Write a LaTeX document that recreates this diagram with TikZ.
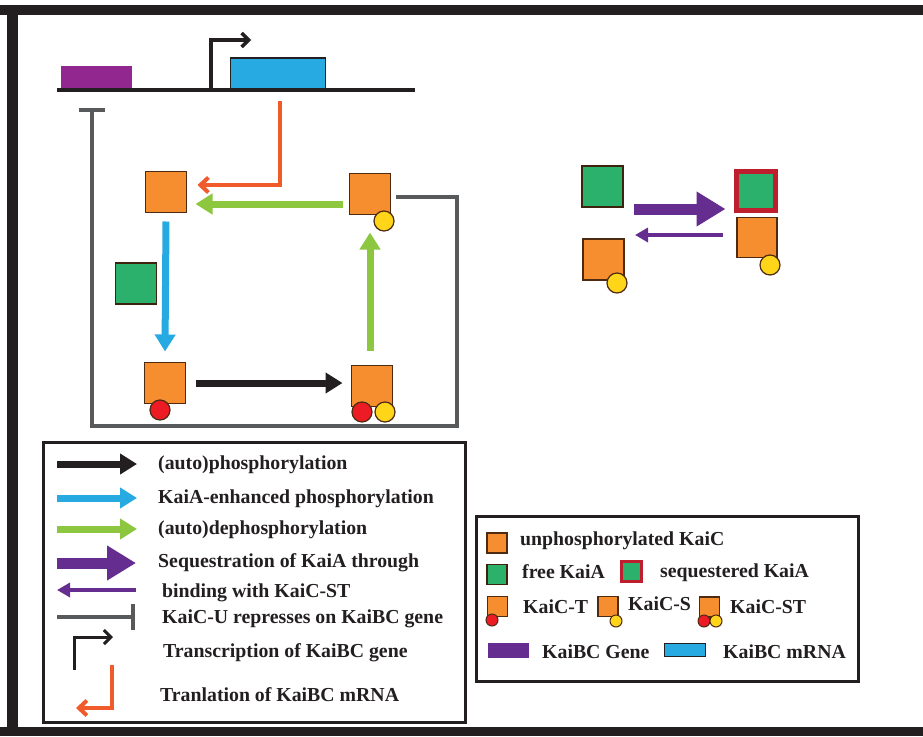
\documentclass[tikz,border=0pt]{standalone}
\usepackage{fontspec}
\setmainfont{Liberation Serif}
\usetikzlibrary{arrows.meta,calc}
\definecolor{kdark}{HTML}{231F20}
\definecolor{korange}{HTML}{F68D2E}
\definecolor{kbrown}{HTML}{4D2B12}
\definecolor{kgreen}{HTML}{2BB16C}
\definecolor{kyellow}{HTML}{FFD51A}
\definecolor{kred}{HTML}{ED1C24}
\definecolor{kblue}{HTML}{27AAE1}
\definecolor{klime}{HTML}{8DC63F}
\definecolor{korarrow}{HTML}{F15A29}
\definecolor{kpurple}{HTML}{662D91}
\definecolor{kgene}{HTML}{92278F}
\definecolor{kgrey}{HTML}{58595B}
\definecolor{kseq}{HTML}{BE1E2D}
\definecolor{ktext}{HTML}{231F20}
\begin{document}
\begin{tikzpicture}[x=1pt,y=-1pt,
  kaic/.style={draw=kbrown,fill=korange,line width=1.3pt,minimum size=41pt,inner sep=0pt,outer sep=0pt},
  kaia/.style={draw=kbrown!80!black,fill=kgreen,line width=1.3pt,minimum size=41pt,inner sep=0pt,outer sep=0pt},
  seqa/.style={draw=kseq,fill=kgreen,line width=5pt,minimum size=39pt,inner sep=0pt,outer sep=0pt},
  pT/.style={circle,draw=kbrown,fill=kred,line width=1.2pt,minimum size=20pt,inner sep=0pt},
  pS/.style={circle,draw=kbrown,fill=kyellow,line width=1.2pt,minimum size=20pt,inner sep=0pt},
  lkaic/.style={kaic,minimum size=20pt,line width=1.2pt},
  lkaia/.style={kaia,minimum size=20pt,line width=1.2pt},
  lpT/.style={pT,minimum size=12pt,line width=1pt},
  lpS/.style={pS,minimum size=12pt,line width=1pt},
  fat/.style={line width=7pt,-{Triangle[length=17pt,width=20pt]}},
  blackarr/.style={fat,draw=kdark},
  bluearr/.style={fat,draw=kblue},
  greenarr/.style={fat,draw=klime},
  bigpurple/.style={draw=kpurple,line width=11pt,-{Triangle[length=29pt,width=33pt]}},
  thinpurple/.style={draw=kpurple,line width=4.5pt,-{Triangle[length=13pt,width=14pt]}},
  transl/.style={draw=korarrow,line width=4pt,-{Straight Barb[length=8pt,width=15pt]}},
  promo/.style={draw=kdark,line width=3.5pt,-{Straight Barb[length=7pt,width=14pt]}},
  repress/.style={draw=kgrey,line width=4pt,-{Bar[width=26pt]}},
  lbl/.style={anchor=base west,inner sep=0pt,text=ktext,font=\bfseries\fontsize{19.8}{22}\selectfont},
  frame/.style={draw=kdark,line width=3pt,fill=none,inner sep=0pt}
]
\useasboundingbox (0,0) rectangle (923,736);
\fill[white] (0,0) rectangle (923,736);
% outer frame
\fill[kdark] (0,5) rectangle (923,15);
\fill[kdark] (7,5) rectangle (18,736);
\fill[kdark] (0,727) rectangle (923,736);

% ---------- gene line ----------
\coordinate (D1) at (57,90);
\coordinate (D2) at (415,90);
\node[fill=kgene,minimum width=71pt,minimum height=24pt,inner sep=0pt] (G) at (96.5,78) {};
\node[draw=kdark,fill=kblue,line width=1.5pt,minimum width=95pt,minimum height=32pt,inner sep=0pt] (M) at (278,74) {};
\draw[kdark,line width=4pt] (D1) -- (D2);
\coordinate (P) at (211,90);
\draw[promo] (P) -- ++(0,-50) -- ++(40,0);

% ---------- cycle ----------
\node[kaic] (U) at (166,192) {};
\node[kaic] (S) at (370,194) {};
\node[pS] (Sp) at (384,221) {};
\node[kaic] (T) at (165,383) {};
\node[pT] (Tp) at (160,410) {};
\node[kaic] (ST) at (372,386) {};
\node[pT] (STp1) at (362,412) {};
\node[pS] (STp2) at (385,412) {};
\node[kaia] (A) at (136,283.5) {};

\draw[transl] ([xshift=2pt,yshift=-10pt]M.south) |- ($(U.east)+(11,-7)$);
\draw[bluearr] ([yshift=-9pt]U.south) -- ([yshift=11pt]T.north);
\draw[blackarr] ([xshift=10pt]T.east) -- ([xshift=-9pt]T.east -| ST.west);
\draw[greenarr] ([xshift=-2pt,yshift=15pt]ST.north) -- ([xshift=-2pt,yshift=-18pt]ST.north |- S.south);
\coordinate (g1) at ($(S.west)+(-7,10)$);
\draw[greenarr] (g1) -- ([xshift=9pt]g1 -| U.east);

\coordinate (R) at (92,108);
\draw[repress] ($(S.east)+(5.5,3)$) -| (457,426) -| (R);

% ---------- sequestration ----------
\node[kaia] (A2) at (602.5,186.5) {};
\node[kaic] (S2) at (603.5,259.5) {};
\node[pS] (S2p) at (617,283) {};
\node[seqa] (A3) at (756,191) {};
\node[kaic,minimum size=40pt] (S3) at (757,237.5) {};
\node[pS] (S3p) at (770,265) {};
\coordinate (b1) at ($(A2.east)+(11,22.5)$);
\draw[bigpurple] (b1) -- ([xshift=-11pt]b1 -| A3.west);
\coordinate (b2) at ($(S3.west)+(-14,-2.5)$);
\draw[thinpurple] (b2) -- ([xshift=12pt]b2 -| A2.east);

% ---------- legend 1 ----------
\node[frame,minimum width=422pt,minimum height=280pt] (L1) at (254,582) {};
\draw[blackarr] (57,464) -- (137,464);
\node[lbl] (t1) at (158,469) {(auto)phosphorylation};
\draw[bluearr] (57,498) -- (137,498);
\node[lbl] (t2) at (158,503) {KaiA-enhanced phosphorylation};
\draw[greenarr] (57,529) -- (137,529);
\node[lbl] (t3) at (158,534) {(auto)dephosphorylation};
\draw[bigpurple] (57,563) -- (136,563);
\node[lbl] (t4) at (158,567) {Sequestration of KaiA through};
\draw[thinpurple] (136,590) -- (57,590);
\node[lbl] (t5) at (162,597) {binding with KaiC-ST};
\draw[repress] (57,617) -- (135,617);
\node[lbl] (t6) at (162,623) {KaiC-U represses on KaiBC gene};
\draw[promo,line width=3pt] (74,670) -- (74,637) -- (113,637);
\node[lbl] (t7) at (163,657) {Transcription of KaiBC gene};
\draw[transl] (112,665) -- (112,708) -- (76,708);
\node[lbl] (t8) at (160,701) {Tranlation of KaiBC mRNA};

% ---------- legend 2 ----------
\node[frame,minimum width=382pt,minimum height=165pt] (L2) at (667,598.5) {};
\node[lkaic] (k1) at (497,543) {};
\node[lbl] (u1) at (520,545) {unphosphorylated KaiC};
\node[lkaia] (k2) at (497,574.5) {};
\node[lbl] (u2) at (522,578) {free KaiA};
\node[seqa,minimum size=20pt,line width=3pt] (k3) at (631,571) {};
\node[lbl] (u3) at (660,577) {sequestered KaiA};
\node[lkaic] (k4) at (497.5,606.5) {};
\node[lpT] (k4p) at (492,620) {};
\node[lbl] (u4) at (523,613) {KaiC-T};
\node[lkaic] (k5) at (608,606.5) {};
\node[lpS] (k5p) at (616,621) {};
\node[lbl] (u5) at (628,610) {KaiC-S};
\node[lkaic] (k6) at (709.5,607) {};
\node[lpT] (k6p) at (704,621) {};
\node[lpS] (k6q) at (716,621) {};
\node[lbl] (u6) at (730,613) {KaiC-ST};
\node[fill=kpurple,minimum width=41pt,minimum height=15pt,inner sep=0pt] (k7) at (508.5,650.5) {};
\node[lbl] (u7) at (542,658) {KaiBC Gene};
\node[draw=kdark,fill=kblue,line width=1.5pt,minimum width=41pt,minimum height=13pt,inner sep=0pt] (k8) at (685,650) {};
\node[lbl] (u8) at (723,658) {KaiBC mRNA};
\end{tikzpicture}
\end{document}
